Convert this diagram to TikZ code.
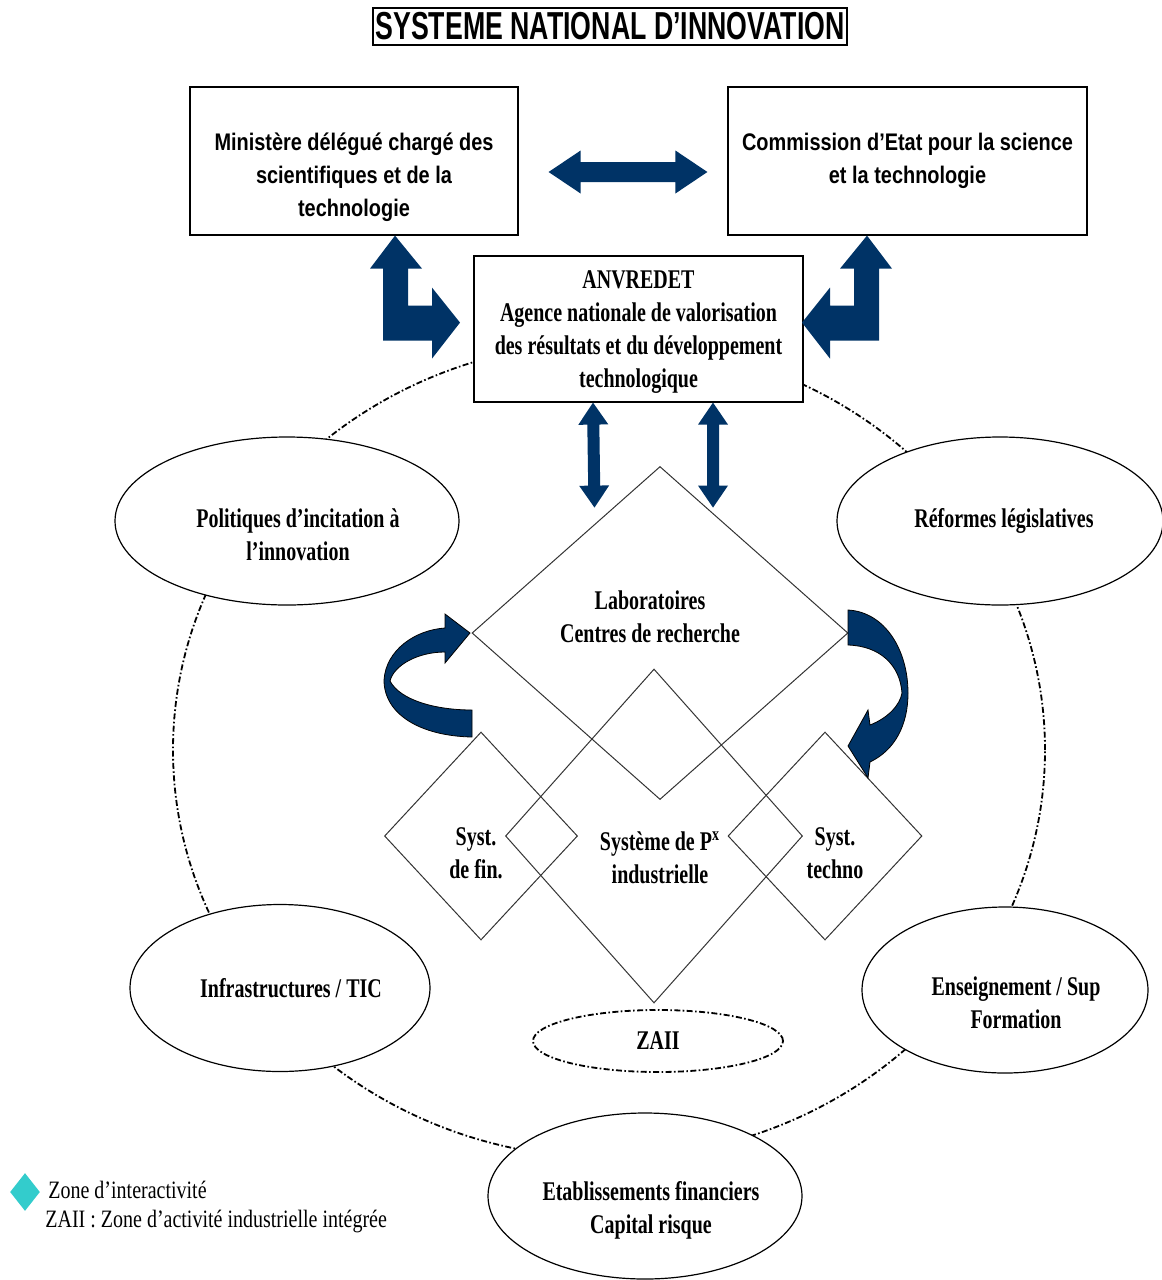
\documentclass[tikz,border=0pt]{standalone}
\usepackage{fontspec}
\setmainfont{Liberation Serif}
\newfontfamily\boxfont[FakeStretch=0.83]{Liberation Sans}
\newfontfamily\titlefont[FakeStretch=0.685]{Liberation Sans}
\newfontfamily\condfont[FakeStretch=0.74]{Liberation Serif}
\newfontfamily\legfont[FakeStretch=0.80]{Liberation Serif}
\usetikzlibrary{shapes.geometric,calc}
\definecolor{navy}{RGB}{0,51,102}
\definecolor{turq}{RGB}{51,204,204}

% double block arrow: start, end, shaft half width, head half width, head length
\newcommand\fatarrow[5]{%
  \fill[navy] (#1) -- ($(#1)!#5!(#2)!#4!90:(#2)$) -- ($(#1)!#5!(#2)!#3!90:(#2)$)
    -- ($(#2)!#5!(#1)!#3!-90:(#1)$) -- ($(#2)!#5!(#1)!#4!-90:(#1)$) -- (#2)
    -- ($(#2)!#5!(#1)!#4!90:(#1)$) -- ($(#2)!#5!(#1)!#3!90:(#1)$)
    -- ($(#1)!#5!(#2)!#3!-90:(#2)$) -- ($(#1)!#5!(#2)!#4!-90:(#2)$) -- cycle;}

\begin{document}
\begin{tikzpicture}[x=0.5pt, y=-0.5pt,
  box/.style={draw, fill=white, line width=0.6pt, align=center, inner sep=2pt,
    font=\boxfont\bfseries\fontsize{12pt}{16.5pt}\selectfont},
  bubble/.style={ellipse, draw, fill=white, line width=0.6pt, align=center, inner sep=0pt,
    font=\condfont\bfseries\fontsize{13.5pt}{16.5pt}\selectfont},
  zone/.style={diamond, draw=black!80, line width=0.5pt, inner sep=0pt},
  lbl/.style={align=center, font=\condfont\bfseries\fontsize{13.5pt}{16.5pt}\selectfont},
  boxtext/.style={align=center, font=\boxfont\bfseries\fontsize{12pt}{16.5pt}\selectfont},
  cycle line/.style={line width=0.9pt, dash pattern=on 3pt off 1.2pt on 0.8pt off 1.2pt},
  legend/.style={anchor=west, inner sep=0pt, font=\legfont\fontsize{12.5pt}{14pt}\selectfont}
]
\useasboundingbox (0,0) rectangle (1162,1280);

% title
\node[draw, line width=0.6pt, minimum width=237pt, minimum height=18.5pt, inner sep=0pt,
  font=\titlefont\bfseries\fontsize{19.5pt}{20pt}\selectfont] (title) at (610,26.5) {SYSTEME NATIONAL D’INNOVATION};

% outer cycle
\draw[cycle line] (609,750) ellipse [x radius=218pt, y radius=204pt];

% zones
\node[zone, minimum width=188pt, minimum height=166.5pt] (labo) at (660,633) {};
\node[zone, minimum width=148.5pt, minimum height=167pt] (prod) at (654,836) {};
\node[zone, minimum width=96.5pt, minimum height=104pt] (fin) at (481,836) {};
\node[zone, minimum width=97pt, minimum height=104pt] (techno) at (825,836) {};
\node[lbl] at ([shift={(-5pt,8pt)}]labo.center) {Laboratoires\\Centres de recherche};
\node[lbl] at ([shift={(3pt,-11pt)}]prod.center) {Système de P\textsuperscript{x}\\industrielle};
\node[lbl] at ([shift={(-2.5pt,-8.5pt)}]fin.center) {Syst.\\de fin.};
\node[lbl] at ([shift={(5pt,-8.5pt)}]techno.center) {Syst.\\techno};

% boxes
\node[box, minimum width=164pt, minimum height=74pt] (ministere) at (354,161) {};
\node[boxtext] at ([yshift=-8pt]ministere.center) {Ministère délégué chargé des\\scientifiques et de la\\technologie};
\node[box, minimum width=179.5pt, minimum height=74pt] (commission) at (907.5,161) {Commission d’Etat pour la science\\et la technologie};
\node[box, minimum width=164.5pt, minimum height=73pt,
  font=\condfont\bfseries\fontsize{13.5pt}{16.5pt}\selectfont] (anvredet) at (638.5,329) {};
\node[lbl] at ([yshift=-1.5pt]anvredet.center) {ANVREDET\\Agence nationale de valorisation\\des résultats et du développement\\technologique};

% bubbles
\node[bubble, minimum width=172pt, minimum height=84pt] (politiques) at (287,521) {};
\node[lbl] at ([shift={(5.5pt,-7pt)}]politiques.center) {Politiques d’incitation à\\l’innovation};
\node[bubble, minimum width=163pt, minimum height=84pt] (reformes) at (1000,521) {};
\node[lbl] at ([xshift=2pt]reformes.center) {Réformes législatives};
\node[bubble, minimum width=150pt, minimum height=83.5pt] (infra) at (280,988) {};
\node[lbl] at ([xshift=5.5pt]infra.center) {Infrastructures / TIC};
\node[bubble, minimum width=143pt, minimum height=83pt] (enseign) at (1005,990) {};
\node[lbl] at ([shift={(5.5pt,-6.5pt)}]enseign.center) {Enseignement / Sup\\Formation};
\node[bubble, minimum width=157pt, minimum height=83pt] (etab) at (645,1196) {};
\node[lbl] at ([shift={(3pt,-7pt)}]etab.center) {Etablissements financiers\\Capital risque};
\node[bubble, cycle line, fill=none, minimum width=125pt, minimum height=31pt] (zaii) at (658,1041) {ZAII};

% block arrows
\coordinate (h1) at ([shift={(15pt,-5.5pt)}]ministere.east);
\coordinate (h2) at ([shift={(-10pt,-5.5pt)}]commission.west);
\fatarrow{h1}{h2}{5pt}{10.75pt}{16pt}
\coordinate (v1) at ([shift={(-22.75pt,0pt)}]anvredet.south);
\coordinate (v2) at ([shift={(-22pt,-52.5pt)}]anvredet.south);
\coordinate (v3) at ([shift={(37.25pt,0pt)}]anvredet.south);
\coordinate (v4) at ([shift={(37.25pt,-52.5pt)}]anvredet.south);
\fatarrow{v1}{v2}{3pt}{7.5pt}{11pt}
\fatarrow{v3}{v4}{3pt}{7.5pt}{11pt}

% L arrows
\fill[navy] ([xshift=20.5pt]ministere.south) -- ++(27,33) -- ++(-14,0) -- ++(0,37) -- ++(24,0)
  -- ++(0,-18) -- ++(28,35) -- ++(-28,36) -- ++(0,-18) -- ++(-49,0) -- ++(0,-72) -- ++(-13,0) -- cycle;
\fill[navy] ([xshift=-20.25pt]commission.south) -- ++(-27,33) -- ++(14,0) -- ++(0,37) -- ++(-24,0)
  -- ++(0,-18) -- ++(-28,35) -- ++(28,36) -- ++(0,-18) -- ++(49,0) -- ++(0,-72) -- ++(13,0) -- cycle;

% curved arrows
\fill[navy, draw=black, line width=0.4pt] (472,737) .. controls (420,736) and (384,714) .. (384,680)
  .. controls (386,650) and (415,630) .. (445,628) -- (445,614) -- (470,633) -- (445,663) -- (445,652)
  .. controls (418,652) and (394,665) .. (390,681) .. controls (400,700) and (435,710) .. (472,710) -- cycle;
\fill[navy, draw=black, line width=0.4pt] (848,610) .. controls (885,612) and (908,650) .. (908,693)
  .. controls (908,725) and (895,750) .. (870,762) -- (868,778) -- (848,746) -- (868,710) -- (870,725)
  .. controls (888,718) and (900,705) .. (902,693) .. controls (900,665) and (880,646) .. (848,645) -- cycle;

% legend
\node[diamond, fill=turq, minimum width=15pt, minimum height=19pt, inner sep=0pt] (legzone) at (25,1192) {};
\node[legend] (legtxt) at (48,1190) {Zone d’interactivité};
\node[legend] (legzaii) at (45,1221) {ZAII : Zone d’activité industrielle intégrée};
\end{tikzpicture}
\end{document}
